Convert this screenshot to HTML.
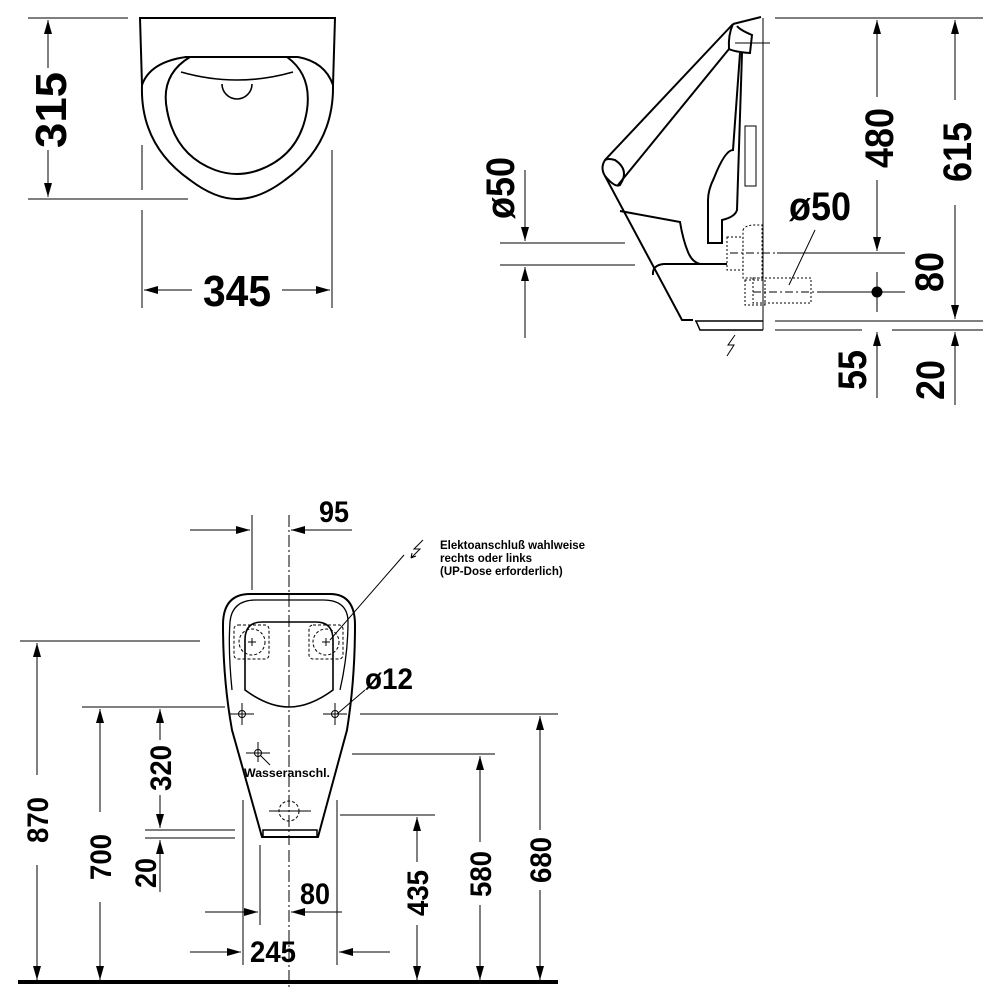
<!DOCTYPE html>
<html><head><meta charset="utf-8"><style>
html,body{margin:0;padding:0;background:#fff;}
svg{display:block;}
.n{font-family:"Liberation Sans Narrow","Liberation Sans",sans-serif;font-weight:bold;fill:#000;}
.s{font-family:"Liberation Sans Narrow","Liberation Sans",sans-serif;font-weight:bold;fill:#000;font-size:11.5px;}
</style></head><body>
<svg width="1000" height="1000" viewBox="0 0 1000 1000" xmlns="http://www.w3.org/2000/svg">
<defs>
<marker id="a" viewBox="0 0 14 8" refX="14" refY="4" markerWidth="14" markerHeight="8" markerUnits="userSpaceOnUse" orient="auto-start-reverse"><path d="M0,0 L14,4 L0,8 Z" fill="#000"/></marker>
</defs>
<g fill="none" stroke="#000" stroke-width="1">
<!-- TOP LEFT VIEW -->
<line x1="28" y1="18" x2="128" y2="18"/>
<line x1="28" y1="199" x2="188" y2="199"/>
<line x1="48" y1="20" x2="48" y2="68" marker-start="url(#a)"/>
<line x1="48" y1="150" x2="48" y2="197" marker-end="url(#a)"/>
<line x1="142" y1="145" x2="142" y2="190"/>
<line x1="142" y1="210" x2="142" y2="308"/>
<line x1="332" y1="150" x2="332" y2="308"/>
<line x1="144" y1="290" x2="192" y2="290" marker-start="url(#a)"/>
<line x1="282" y1="290" x2="330" y2="290" marker-end="url(#a)"/>
<g stroke-width="2">
<path d="M142,85 L140,18 L335,18 L333,85"/>
<line x1="185" y1="57" x2="298" y2="57"/>
<path d="M142,85 Q150,62 186,57 M298,57 Q325,62 333,85"/>
<path d="M142,85 Q140,145 190,180 Q215,199 237,199 Q260,199 285,180 Q334,145 333,85"/>
<path d="M190,57 Q160,75 167,110 Q175,155 215,170 Q237,178 259,170 Q300,155 307,110 Q312,75 287,57"/>
<path d="M181,72 Q237,88 293,72" stroke-width="1.6"/>
<path d="M222,84 A15,15 0 0 0 252,84" stroke-width="1.6"/>
</g>
<!-- SIDE VIEW -->
<line x1="500" y1="243" x2="625" y2="243"/>
<line x1="500" y1="265" x2="635" y2="265"/>
<line x1="525" y1="170" x2="525" y2="241" marker-end="url(#a)"/>
<line x1="525" y1="338" x2="525" y2="267" marker-end="url(#a)"/>
<line x1="775" y1="18" x2="983" y2="18"/>
<line x1="777" y1="253" x2="905" y2="253"/>
<line x1="820" y1="292" x2="905" y2="292"/>
<line x1="775" y1="321" x2="983" y2="321"/>
<line x1="775" y1="330" x2="862" y2="330"/>
<line x1="892" y1="330" x2="983" y2="330"/>
<line x1="877" y1="20" x2="877" y2="97" marker-start="url(#a)"/>
<line x1="877" y1="180" x2="877" y2="251" marker-end="url(#a)"/>
<line x1="877" y1="272" x2="877" y2="312"/>
<line x1="955" y1="20" x2="955" y2="100" marker-start="url(#a)"/>
<line x1="955" y1="205" x2="955" y2="319" marker-end="url(#a)"/>
<line x1="877" y1="398" x2="877" y2="332" marker-end="url(#a)"/>
<line x1="955" y1="405" x2="955" y2="332" marker-end="url(#a)"/>
<circle cx="877" cy="292" r="5" fill="#000"/>
<line x1="815" y1="230" x2="789" y2="285"/>
<line x1="763" y1="18" x2="763" y2="330"/>
<line x1="735" y1="43" x2="770" y2="43"/>
<line x1="730" y1="253" x2="775" y2="253" stroke-dasharray="8,3,2,3"/>
<line x1="753" y1="292" x2="822" y2="292" stroke-dasharray="8,3,2,3"/>
<g stroke-dasharray="2,2">
<rect x="727" y="237" width="16" height="33"/>
<path d="M743,230 Q745,225 755,225 L762,225 L762,278 L743,278 Z"/>
<rect x="745" y="280" width="20" height="25"/>
<rect x="753" y="278" width="58" height="25"/>
</g>
<rect x="745" y="126" width="11" height="60"/>
<g stroke-width="2">
<path d="M733,24 L761,17"/>
<path d="M733,24 L605,160 Q600,168 605,176 L682,320 L693,320"/>
<path d="M605,176 Q615,188 620,185 Q630,170 615,160 Q608,158 605,160"/>
<path d="M729,49 L618,185"/>
<path d="M733,24 Q728,35 729,49 Q735,52 750,53 L752,35 Q740,30 737,26"/>
<path d="M740,53 L733,150 Q725,150 714,178 Q708,190 708,200 L708,243 L722,243 L722,220 Q735,217 737,210 L742,53"/>
<path d="M620,211 L680,222 Q683,240 688,252 Q692,262 700,264 L727,264"/>
<path d="M653,275 Q652,265 664,264 L700,264"/>
<path d="M695,321 L763,321 M696,321 L700,330 L763,330" stroke-width="1.5"/>
</g>
<path d="M735,335 L728,345 L734,345 L727,356"/>
<!-- FRONT VIEW -->
<line x1="190" y1="530" x2="250" y2="530" marker-end="url(#a)"/>
<line x1="352" y1="530" x2="291" y2="530" marker-end="url(#a)"/>
<line x1="252" y1="515" x2="252" y2="590"/>
<line x1="289" y1="515" x2="289" y2="845" stroke-dasharray="12,3,2,3"/>
<line x1="404" y1="555" x2="330" y2="640"/>
<path d="M423,540 L414,549 L420,549 L411,558 M411,558 l1,-5 M411,558 l5,-2"/>
<line x1="365" y1="690" x2="337" y2="714"/>
<line x1="270" y1="765" x2="260" y2="755"/>
<!-- dims -->
<line x1="20" y1="641" x2="200" y2="641"/>
<line x1="82" y1="707" x2="225" y2="707"/>
<line x1="145" y1="830" x2="235" y2="830"/>
<line x1="145" y1="838" x2="235" y2="838"/>
<line x1="340" y1="815" x2="435" y2="815"/>
<line x1="352" y1="754" x2="495" y2="754"/>
<line x1="360" y1="714" x2="558" y2="714"/>
<line x1="37" y1="643" x2="37" y2="775" marker-start="url(#a)"/>
<line x1="37" y1="865" x2="37" y2="980" marker-end="url(#a)"/>
<line x1="100" y1="709" x2="100" y2="812" marker-start="url(#a)"/>
<line x1="100" y1="902" x2="100" y2="980" marker-end="url(#a)"/>
<line x1="160" y1="709" x2="160" y2="740" marker-start="url(#a)"/>
<line x1="160" y1="795" x2="160" y2="828" marker-end="url(#a)"/>
<line x1="160" y1="892" x2="160" y2="840" marker-end="url(#a)"/>
<line x1="417" y1="817" x2="417" y2="862" marker-start="url(#a)"/>
<line x1="417" y1="925" x2="417" y2="980" marker-end="url(#a)"/>
<line x1="480" y1="756" x2="480" y2="842" marker-start="url(#a)"/>
<line x1="480" y1="905" x2="480" y2="980" marker-end="url(#a)"/>
<line x1="540" y1="716" x2="540" y2="830" marker-start="url(#a)"/>
<line x1="540" y1="890" x2="540" y2="980" marker-end="url(#a)"/>
<line x1="243" y1="800" x2="243" y2="965"/>
<line x1="260" y1="845" x2="260" y2="925"/>
<line x1="337" y1="800" x2="337" y2="965"/>
<line x1="289" y1="850" x2="289" y2="990" stroke-dasharray="12,3,2,3"/>
<line x1="205" y1="912" x2="258" y2="912" marker-end="url(#a)"/>
<line x1="342" y1="912" x2="291" y2="912" marker-end="url(#a)"/>
<line x1="190" y1="952" x2="241" y2="952" marker-end="url(#a)"/>
<line x1="390" y1="952" x2="339" y2="952" marker-end="url(#a)"/>
<line x1="18" y1="982" x2="558" y2="982" stroke-width="4"/>
<!-- urinal front -->
<g stroke-width="2">
<path d="M262,837 L232,730 Q223,680 223,625 Q223,594 250,594 L330,594 Q355,594 355,625 Q355,680 347,730 L318,837 Z"/>
</g>
<path d="M232,690 Q228,650 230,622 Q232,600 256,600 L323,600 Q348,600 348,622 Q348,655 340,690" stroke-width="1.3"/>
<path d="M245,690 L245,640 Q245,622 262,622 L316,622 Q333,622 333,640 L333,690 Q310,707 289,707 Q268,707 245,690 Z" stroke-width="1.6"/>
<rect x="263" y="830" width="54" height="7" stroke-width="1.5"/>
<g stroke-dasharray="3,2">
<rect x="234" y="625" width="35" height="34" rx="4"/>
<rect x="309" y="625" width="34" height="34" rx="4"/>
<circle cx="252" cy="642" r="13"/>
<circle cx="326" cy="642" r="13"/>
<circle cx="289" cy="811" r="10"/>
</g>
<path d="M248,642 h8 M252,638 v8 M322,642 h8 M326,638 v8"/>
<circle cx="242" cy="714" r="3.5"/><path d="M230,714 h24 M242,703 v22"/>
<circle cx="335" cy="714" r="3.5"/><path d="M323,714 h24 M335,703 v22"/>
<circle cx="258" cy="753" r="3.5"/><path d="M246,753 h24 M258,742 v20"/>
<path d="M269,811 h42"/>
</g>
<!-- text -->
<text class="n" font-size="44" transform="translate(66,110) rotate(-90)" text-anchor="middle" textLength="76" lengthAdjust="spacingAndGlyphs">315</text>
<text class="n" font-size="44" x="237" y="306" text-anchor="middle" textLength="68" lengthAdjust="spacingAndGlyphs">345</text>
<text class="n" font-size="40" transform="translate(514,188) rotate(-90)" text-anchor="middle" textLength="62" lengthAdjust="spacingAndGlyphs">ø50</text>
<text class="n" font-size="40" x="820" y="220" text-anchor="middle" textLength="62" lengthAdjust="spacingAndGlyphs">ø50</text>
<text class="n" font-size="40" transform="translate(893,138) rotate(-90)" text-anchor="middle" textLength="60" lengthAdjust="spacingAndGlyphs">480</text>
<text class="n" font-size="40" transform="translate(971,152) rotate(-90)" text-anchor="middle" textLength="60" lengthAdjust="spacingAndGlyphs">615</text>
<text class="n" font-size="40" transform="translate(943,272) rotate(-90)" text-anchor="middle" textLength="40" lengthAdjust="spacingAndGlyphs">80</text>
<text class="n" font-size="40" transform="translate(866,370) rotate(-90)" text-anchor="middle" textLength="40" lengthAdjust="spacingAndGlyphs">55</text>
<text class="n" font-size="40" transform="translate(944,380) rotate(-90)" text-anchor="middle" textLength="40" lengthAdjust="spacingAndGlyphs">20</text>
<text class="n" font-size="30" x="334" y="522" text-anchor="middle" textLength="30" lengthAdjust="spacingAndGlyphs">95</text>
<text class="n" font-size="30" x="389" y="689" text-anchor="middle" textLength="48" lengthAdjust="spacingAndGlyphs">ø12</text>
<text class="s" x="440" y="549">Elektoanschluß wahlweise</text>
<text class="s" x="440" y="562">rechts oder links</text>
<text class="s" x="440" y="575">(UP-Dose erforderlich)</text>
<text class="s" x="244" y="777" textLength="86" lengthAdjust="spacingAndGlyphs">Wasseranschl.</text>
<text class="n" font-size="30" transform="translate(48,820) rotate(-90)" text-anchor="middle" textLength="46" lengthAdjust="spacingAndGlyphs">870</text>
<text class="n" font-size="30" transform="translate(111,857) rotate(-90)" text-anchor="middle" textLength="46" lengthAdjust="spacingAndGlyphs">700</text>
<text class="n" font-size="30" transform="translate(171,768) rotate(-90)" text-anchor="middle" textLength="46" lengthAdjust="spacingAndGlyphs">320</text>
<text class="n" font-size="30" transform="translate(156,873) rotate(-90)" text-anchor="middle" textLength="30" lengthAdjust="spacingAndGlyphs">20</text>
<text class="n" font-size="30" x="315" y="904" text-anchor="middle" textLength="30" lengthAdjust="spacingAndGlyphs">80</text>
<text class="n" font-size="30" x="273" y="962" text-anchor="middle" textLength="46" lengthAdjust="spacingAndGlyphs">245</text>
<text class="n" font-size="30" transform="translate(428,893) rotate(-90)" text-anchor="middle" textLength="46" lengthAdjust="spacingAndGlyphs">435</text>
<text class="n" font-size="30" transform="translate(491,874) rotate(-90)" text-anchor="middle" textLength="46" lengthAdjust="spacingAndGlyphs">580</text>
<text class="n" font-size="30" transform="translate(551,860) rotate(-90)" text-anchor="middle" textLength="46" lengthAdjust="spacingAndGlyphs">680</text>
</svg>
</body></html>
